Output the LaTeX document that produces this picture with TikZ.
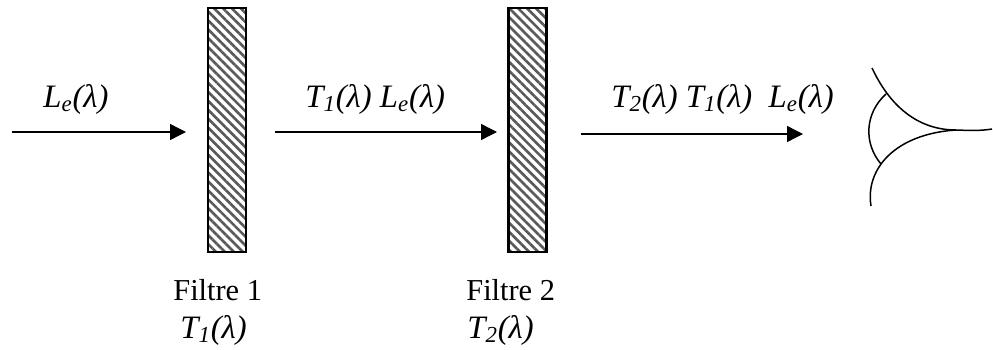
\documentclass[tikz,border=0pt]{standalone}
\usepackage{fontspec}
\setmainfont{Liberation Serif}
\usetikzlibrary{positioning,arrows.meta,patterns.meta}
\newcommand{\lam}{λ}

\begin{document}
\begin{tikzpicture}[every node/.style={font=\fontsize{17.3}{20}\selectfont}]
  \tikzset{
      filtre/.style={draw, line width=1.2pt, minimum width=0.76cm, minimum height=4.88cm, inner sep=0pt,
        pattern={Lines[angle=-45, distance=3.6pt, line width=1.5pt]}, pattern color=black!65},
      fleche/.style={line width=0.8pt, -{Triangle[length=0.32cm, width=0.32cm]}},
      label/.style={anchor=base west, inner sep=0pt, font=\fontsize{18.6}{20}\selectfont\itshape},
      texte/.style={anchor=base west, inner sep=0pt},
      oeil/.style={line width=0.85pt}
  }
  \useasboundingbox (0,0) rectangle (19.86,6.98);

  % filters
  \node[filtre] (f1) at (4.54,4.38) {};
  \node[filtre] (f2) at (10.55,4.38) {};

  % beams
  \coordinate (a0) at (0.24,4.34);
  \coordinate (a1) at (3.72,4.34);
  \coordinate (b0) at (5.50,4.34);
  \coordinate (b1) at (9.94,4.34);
  \coordinate (c0) at (11.62,4.30);
  \coordinate (c1) at (16.06,4.30);
  \draw[fleche] (a0) -- (a1);
  \draw[fleche] (b0) -- (b1);
  \draw[fleche] (c0) -- (c1);

  \node[label] (la) at (0.86,4.84) {L\textsubscript{e}(\lam)};
  \node[label] (lb) at (6.10,4.84) {T\textsubscript{1}(\lam) L\textsubscript{e}(\lam)};
  \node[label] (lc) at (12.22,4.84) {T\textsubscript{2}(\lam) T\textsubscript{1}(\lam)\ \ L\textsubscript{e}(\lam)};

  \node[texte] (n1) at (3.46,0.98) {Filtre 1};
  \node[label] (t1) at (3.60,0.22) {T\textsubscript{1}(\lam)};
  \node[texte] (n2) at (9.32,0.98) {Filtre 2};
  \node[label] (t2) at (9.34,0.22) {T\textsubscript{2}(\lam)};

  % eye
  \coordinate (e0) at (17.44,5.62);
  \coordinate (e1) at (19.84,4.40);
  \coordinate (e2) at (19.12,4.38);
  \coordinate (e3) at (17.42,2.86);
  \coordinate (e4) at (17.72,5.10);
  \coordinate (e5) at (17.62,3.70);
  \draw[oeil] (e0) .. controls (17.85,4.75) and (18.45,4.38) .. (e2) .. controls (19.4,4.37) and (19.6,4.36) .. (e1);
  \draw[oeil] (e3) .. controls (17.30,3.60) and (17.9,4.30) .. (e2);
  \draw[oeil] (e4) .. controls (17.28,4.70) and (17.28,4.10) .. (e5);
\end{tikzpicture}
\end{document}
